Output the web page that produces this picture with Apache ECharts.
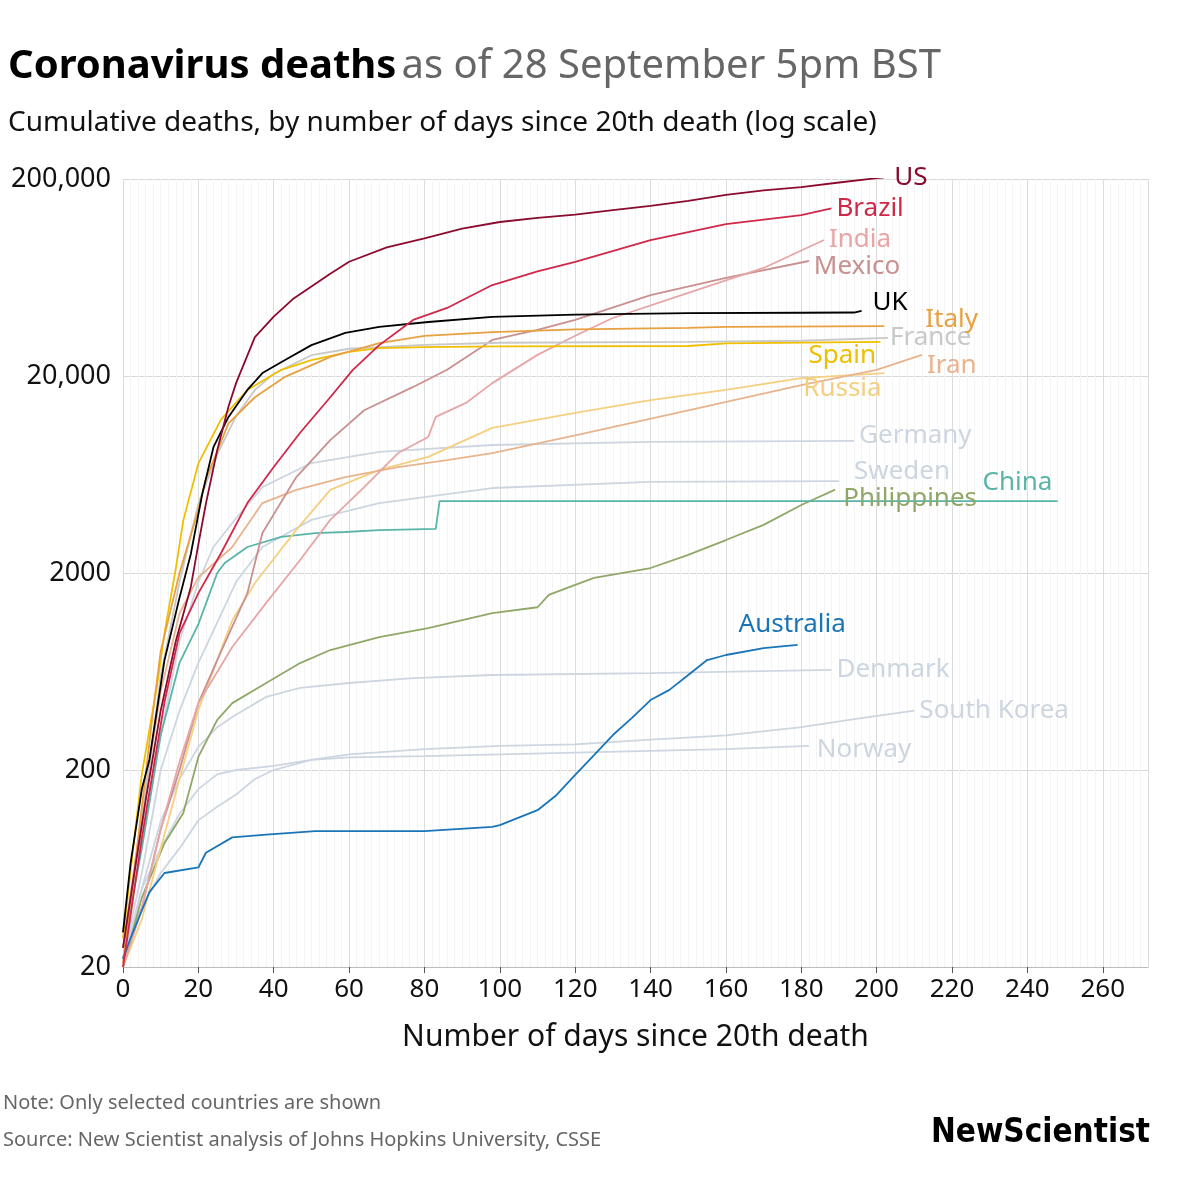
<!DOCTYPE html>
<html><head><meta charset="utf-8">
<script src="https://cdn.jsdelivr.net/npm/echarts@6/dist/echarts.min.js"></script>
<style>html,body{margin:0;padding:0;background:#fff}#c{width:1200px;height:1200px}</style>
</head><body><div id="c"></div>
<script>
// [day since 20th death, cumulative deaths]
const US = [[0,25],[3,60],[6,140],[10,400],[14,900],[18,1700],[20,2800],[22,4500],[25,8400],[28,14000],[30,18400],[35,31500],[40,40000],[45,49000],[50,57000],[55,66000],[60,76000],[70,90000],[80,100000],[90,112000],[100,121000],[110,127000],[120,132000],[130,139000],[140,146000],[150,155000],[160,166000],[170,175000],[180,182000],[190,192000],[200,202000],[202,204000]];
const UK = [[0,30],[2,67],[5,160],[7,225],[11,720],[15,1500],[18,2500],[21,5000],[24,8700],[28,12400],[33,17000],[37,20700],[43,24100],[50,28700],[59,33100],[68,35500],[81,37600],[98,39900],[120,41000],[150,41700],[180,41900],[194,42000],[196,42800]];
const Spain = [[0,28],[3,90],[5,190],[7,320],[9,530],[11,990],[14,2100],[16,3700],[20,7200],[26,12000],[33,17000],[42,21500],[50,24100],[60,26500],[68,27700],[80,28000],[100,28300],[150,28400],[160,29300],[201,29800]];
const Italy = [[0,21],[3,60],[5,130],[8,400],[10,800],[15,2000],[20,4200],[22,6000],[28,11500],[35,15600],[43,19800],[55,25000],[68,29400],[80,32000],[98,33400],[120,34500],[150,35100],[160,35500],[202,35800]];
const France = [[0,25],[3,60],[5,110],[8,300],[10,600],[15,1800],[20,4500],[25,8000],[30,12500],[35,17000],[40,20500],[50,25500],[60,27500],[80,28800],[100,29500],[150,29800],[180,30200],[203,31200]];
const Brazil = [[0,20],[5,90],[8,200],[11,440],[15,990],[20,1580],[26,2520],[33,4530],[40,6900],[47,10300],[55,15600],[61,21500],[68,28700],[77,38500],[86,44300],[98,57900],[110,68000],[120,76000],[140,98000],[160,118000],[180,131000],[188,142000]];
const India = [[0,20],[5,40],[10,100],[15,220],[20,437],[29,842],[38,1410],[47,2330],[55,3720],[64,5460],[73,8130],[81,9800],[83,12400],[91,14600],[98,18400],[110,25600],[120,32000],[130,39400],[150,52800],[170,70700],[186,98000]];
const Mexico = [[0,20],[5,40],[10,100],[15,200],[20,437],[25,723],[33,1580],[37,3190],[46,6140],[55,9460],[64,13400],[77,17600],[86,21500],[98,30500],[110,34300],[120,38500],[140,51500],[160,62900],[182,76700]];
const Iran = [[0,25],[5,120],[10,500],[15,1250],[20,1900],[29,2710],[37,4530],[46,5280],[59,6140],[73,6900],[86,7490],[98,8130],[120,10000],[150,13400],[180,18000],[200,21500],[212,25600]];
const Russia = [[0,20],[5,35],[10,80],[15,180],[20,404],[29,1150],[35,1780],[46,3310],[55,5280],[68,6670],[81,7770],[98,10900],[120,13000],[140,15100],[160,17000],[180,19500],[202,20700]];
const Germany = [[0,22],[5,100],[10,300],[15,900],[20,1800],[24,2710],[29,3590],[37,5460],[50,7230],[68,8230],[98,8930],[140,9250],[194,9360]];
const Sweden = [[0,22],[5,60],[10,200],[15,400],[20,700],[30,1800],[37,2710],[50,3720],[68,4530],[98,5400],[140,5800],[190,5860]];
const China = [[0,25],[5,80],[10,300],[15,700],[20,1100],[25,2000],[27,2250],[33,2710],[42,3050],[51,3190],[59,3230],[68,3300],[83,3350],[84,4630],[248,4630]];
const Philippines = [[0,20],[5,45],[11,85],[16,121],[20,233],[25,359],[29,437],[38,553],[47,698],[55,813],[68,946],[81,1050],[98,1250],[110,1340],[113,1550],[120,1740],[125,1890],[140,2120],[150,2470],[160,2940],[170,3510],[180,4430],[189,5300]];
const Australia = [[0,22],[2,28],[7,48],[11,60],[20,64],[22,76],[29,91],[38,94],[51,98],[80,98],[98,103],[100,105],[110,125],[115,149],[120,189],[125,238],[130,301],[135,367],[140,453],[145,510],[150,607],[155,723],[160,767],[170,832],[179,863]];
const Denmark = [[0,20],[5,50],[10,110],[15,180],[20,262],[25,330],[29,372],[38,470],[47,522],[60,553],[77,586],[98,607],[140,620],[188,644]];
const SouthKorea = [[0,25],[5,40],[10,60],[15,80],[20,111],[25,130],[30,150],[35,180],[40,200],[50,225],[60,240],[80,255],[100,265],[120,270],[140,285],[160,300],[180,330],[195,365],[210,400]];
const Norway = [[0,22],[5,50],[10,80],[15,120],[20,160],[25,190],[30,200],[40,210],[50,225],[60,232],[80,235],[100,240],[140,250],[160,255],[182,265]];
const yTickLabels = ['20','200','2000','20,000','200,000'];

const FONT = '"Noto Sans", sans-serif';
const grey = '#cdd6e0';
const countries = [
  ['Norway', Norway, grey, [3,4]],
  ['South Korea', SouthKorea, grey, [0,0]],
  ['Denmark', Denmark, grey, [0,0]],
  ['Sweden', Sweden, grey, [10,-9]],
  ['Germany', Germany, grey, [0,-5]],
  ['Philippines', Philippines, '#8fa868', [3,9]],
  ['China', China, '#5ab5a8', [-80,-19]],
  ['Russia', Russia, '#f5cf80', [-86,16]],
  ['Iran', Iran, '#e8b48e', [0,11]],
  ['Mexico', Mexico, '#c99090', [0,6]],
  ['India', India, '#e8a5a5', [0,0]],
  ['France', France, '#c8c8c8', [-3,0]],
  ['Spain', Spain, '#f0c000', [-77,14]],
  ['Italy', Italy, '#e8a040', [36,-7]],
  ['UK', UK, '#000000', [6,-8]],
  ['Australia', Australia, '#1a75b8', [-64,-20]],
  ['Brazil', Brazil, '#d02849', [0,0]],
  ['US', US, '#8b0a2e', [5,0]]
];
const series = countries.map(([name, pts, color, off]) => ({
  name, type: 'line', showSymbol: false, silent: true,
  data: pts.map(p => [p[0], Math.log10(p[1] / 20)]),
  lineStyle: { color, width: 1.8 },
  endLabel: { show: true, formatter: name, color, fontSize: 26, fontFamily: FONT, offset: off, distance: 5 }
}));

const chart = echarts.init(document.getElementById('c'));
chart.setOption({
  animation: false,
  grid: { left: 123, right: 52, top: 179, bottom: 233 },
  title: [
    { left: 3, top: 42, text: '{b|Coronavirus deaths} {n|as of 28 September 5pm BST}',
      textStyle: { rich: { b: { fontSize: 40, fontWeight: 'bold', color: '#000', fontFamily: FONT }, n: { fontSize: 40, fontWeight: 'normal', color: '#666', fontFamily: FONT } } } },
    { left: 3, top: 104, text: 'Cumulative deaths, by number of days since 20th death (log scale)',
      textStyle: { fontSize: 28, fontWeight: 'normal', color: '#111', fontFamily: FONT } }
  ],
  xAxis: {
    type: 'value', min: 0, max: 272, interval: 20,
    name: 'Number of days since 20th death', nameLocation: 'middle', nameGap: 55,
    nameTextStyle: { fontSize: 30, color: '#111', fontFamily: FONT },
    axisLine: { lineStyle: { color: '#bbb' } },
    axisTick: { show: true, length: 6, lineStyle: { color: '#555' } },
    axisLabel: { fontSize: 26, color: '#111', fontFamily: FONT, showMaxLabel: false, margin: 10 },
    splitLine: { show: true, lineStyle: { color: '#dcdcdc' } },
    minorTick: { show: false, splitNumber: 10 },
    minorSplitLine: { show: true, lineStyle: { color: '#f4f4f4' } }
  },
  yAxis: {
    type: 'value', min: 0, max: 4, interval: 1,
    axisLine: { show: false }, axisTick: { show: false },
    axisLabel: { fontSize: 27, color: '#111', fontFamily: FONT, margin: 12, formatter: v => yTickLabels[Math.round(v)] },
    splitLine: { lineStyle: { color: '#d8d8d8' } }
  },
  graphic: [
    { type: 'text', left: 3, top: 1093, style: { text: 'Note: Only selected countries are shown', fontSize: 20, fill: '#666', fontFamily: FONT } },
    { type: 'text', left: 3, top: 1130, style: { text: 'Source: New Scientist analysis of Johns Hopkins University, CSSE', fontSize: 20, fill: '#666', fontFamily: FONT } },
    { type: 'text', right: 50, top: 1117, style: { text: 'NewScientist', fontSize: 33, fontWeight: 'bold', fill: '#000', fontFamily: '"Liberation Sans Narrow", "DejaVu Sans Condensed", sans-serif' } }
  ],
  series
});
</script></body></html>
